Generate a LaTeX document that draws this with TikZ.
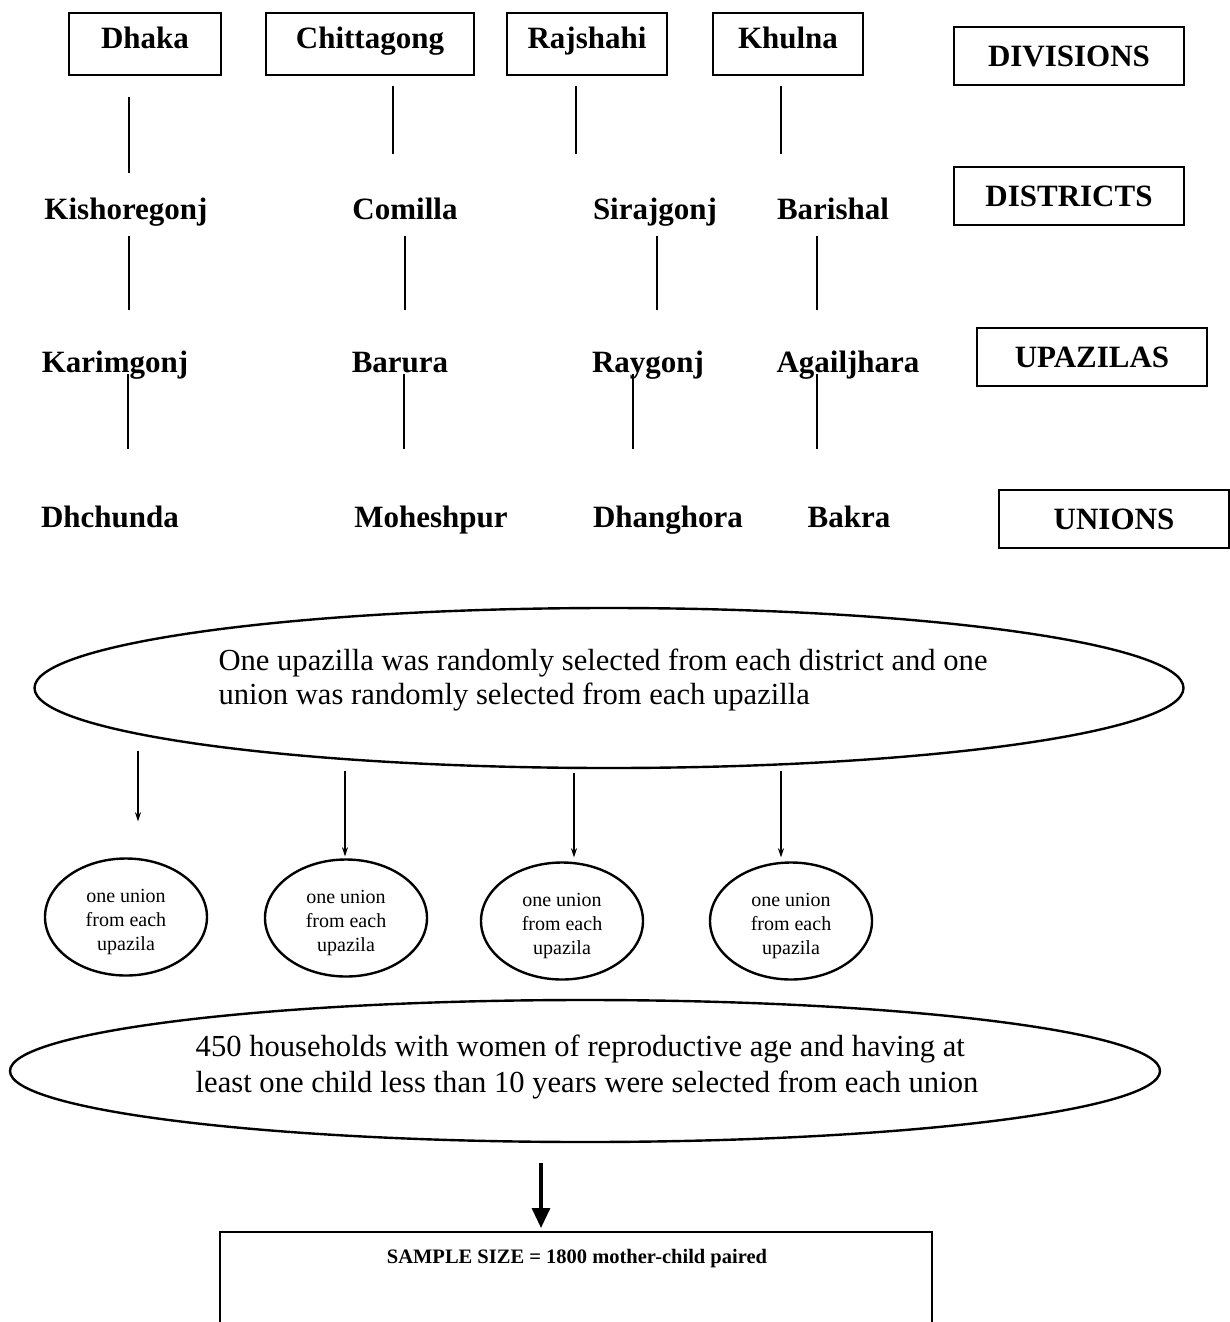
\documentclass[tikz,border=0pt]{standalone}
\usepackage{fontspec}
\setmainfont{Liberation Serif}
\usetikzlibrary{shapes.geometric,arrows.meta}

\begin{document}
\begin{tikzpicture}
[
    x=1pt, y=-1pt,
    place/.style={font=\fontsize{31}{34}\selectfont\bfseries, inner sep=0pt, text height=20.5pt, text depth=0pt},
    division/.style={place, draw, line width=1.8pt, minimum height=62, text depth=12pt},
    levelbox/.style={place, draw, line width=1.8pt, minimum width=230, minimum height=58},
    link/.style={line width=2.6pt},
    note/.style={font=\fontsize{30.6}{34}\selectfont, align=left, inner sep=0pt},
    bigoval/.style={ellipse, draw, line width=2.4pt, inner sep=0pt},
    unionoval/.style={ellipse, draw, line width=2.4pt, inner sep=0pt, minimum width=162, minimum height=117},
    uniontext/.style={font=\fontsize{20}{24}\selectfont, align=center, inner sep=0pt},
    arr/.style={line width=2.6pt, -{Stealth[length=9,width=6]}},
    bigarr/.style={line width=3.2pt, -{Triangle[length=20,width=18]}},
]
\useasboundingbox (0,0) rectangle (1230,1322);
\node [division, minimum width=152] (dhaka) at (145,44) {Dhaka};
\node [division, minimum width=208] (chit) at (370,44) {Chittagong};
\node [division, minimum width=160] (raj) at (587,44) {Rajshahi};
\node [division, minimum width=150] (khul) at (788,44) {Khulna};

\node [place] (kish) at (126,209) {Kishoregonj};
\node [place] (comi) at (405,209) {Comilla};
\node [place] (sira) at (655,209) {Sirajgonj};
\node [place] (bari) at (833,209) {Barishal};

\node [place] (kari) at (115,362) {Karimgonj};
\node [place] (baru) at (400,362) {Barura};
\node [place] (rayg) at (648,362) {Raygonj};
\node [place] (agai) at (848,362) {Agailjhara};

\node [place] (dhch) at (110,517) {Dhchunda};
\node [place] (mohe) at (431,517) {Moheshpur};
\node [place] (dhan) at (668,517) {Dhanghora};
\node [place] (bakr) at (849,517) {Bakra};

\node [levelbox] (divs) at (1069,56) {DIVISIONS};
\node [levelbox] (dists) at (1069,196) {DISTRICTS};
\node [levelbox] (upas) at (1092,357) {UPAZILAS};
\node [levelbox] (unis) at (1114,519) {UNIONS};

\foreach \n/\dx/\dy/\len in {dhaka/-16/21/76, chit/23/10/68, raj/-11/10/68, khul/-7/10/68,
    kish/3/17/74, comi/0/17/74, sira/2/17/74, bari/-16/17/74,
    kari/13/2/75, baru/4/2/75, rayg/-15/2/75, agai/-31/2/75}
    \draw [link] ([shift={(\dx,\dy)}]\n.south) -- ++(0,\len);

\node [bigoval, minimum width=1149, minimum height=160] (pick) at (609,688) {};
\node [note] (pickt) at (603,680) {One upazilla was randomly selected from each district and one\\
union was randomly selected from each upazilla};

\foreach \n/\x/\y in {u1/126/917, u2/346/918, u3/562/921, u4/791/921} {
    \node [unionoval] (\n) at (\x,\y) {};
    \node [uniontext] (\n t) at (\x,\y+5) {one union\\from each\\upazila};
}

\foreach \c/\dx/\sa/\sb in {u1/12/-18/36, u2/-1/2/2, u3/12/4/4, u4/-10/2/4}
    \draw [arr] ([shift={(\dx,\sa)}]\c.north |- pick.south) -- ([shift={(\dx,-\sb)}]\c.north);

\node [bigoval, minimum width=1150, minimum height=142] (hh) at (585,1071) {};
\node [note] (hht) at (587,1067) {450 households with women of reproductive age and having at\\[2pt]
least one child less than 10 years were selected from each union};

\node [minimum width=712, minimum height=90, anchor=north, inner sep=0pt] (smp) at (576,1232) {};
\draw [line width=1.8pt] (smp.south west) |- (smp.north east) -- (smp.south east);
\node [font=\fontsize{20.5}{24}\selectfont\bfseries, inner sep=0pt] (smpt) at (577,1259) {SAMPLE SIZE = 1800 mother-child paired};

\draw [bigarr] ([shift={(-35,20)}]smp.north |- hh.south) -- ([shift={(-35,-4)}]smp.north);
\end{tikzpicture}
\end{document}
